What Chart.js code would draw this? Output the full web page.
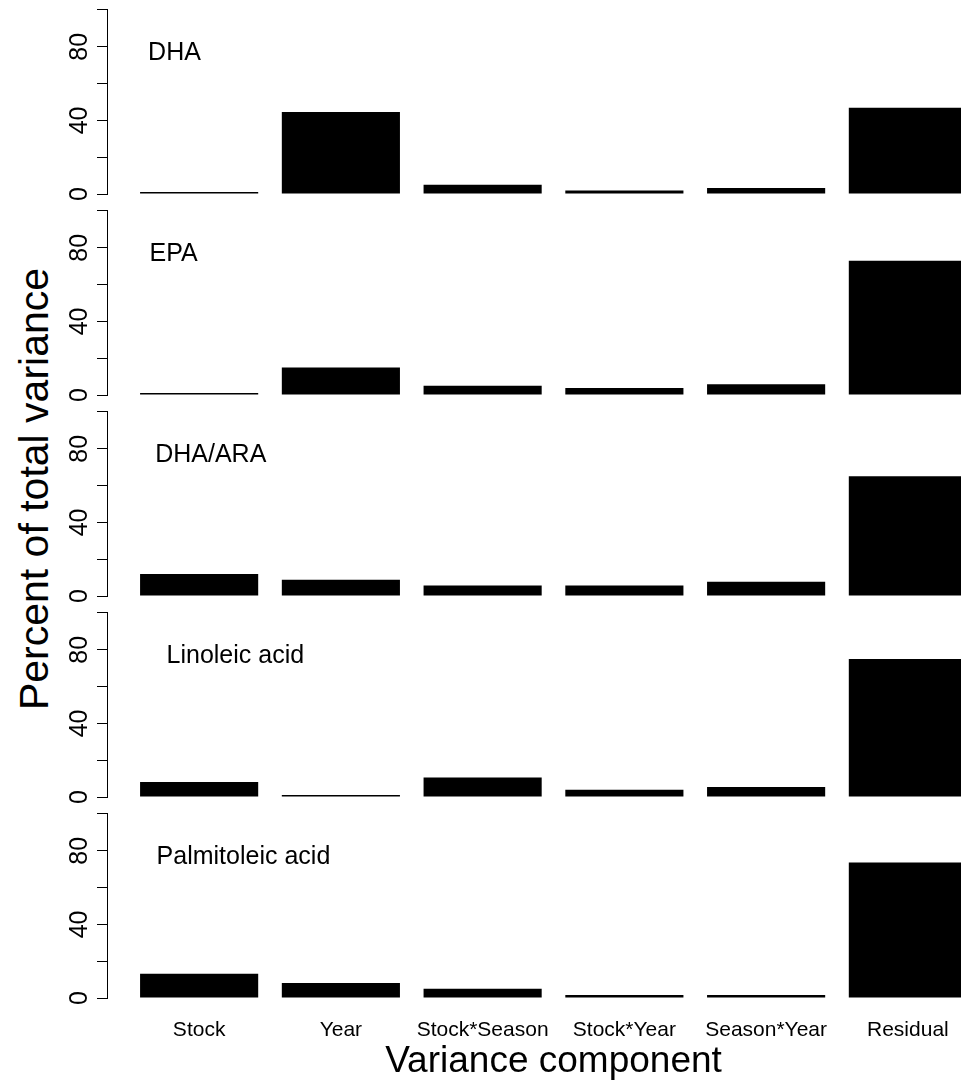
<!DOCTYPE html>
<html>
<head>
<meta charset="utf-8">
<script src="https://cdn.jsdelivr.net/npm/chart.js@4.4.1/dist/chart.umd.min.js"></script>
<style>
html, body { margin: 0; padding: 0; background: #fff; overflow: hidden; }
#figure { position: relative; width: 961px; height: 1087px; overflow: hidden; }
#figure canvas { position: absolute; left: 0; }
#ytitle {
    position: absolute; left: 34px; top: 489px;
    transform: translate(-50%, -50%) rotate(-90deg);
    font: 41px 'Liberation Sans', Arial, sans-serif;
    line-height: 1; white-space: nowrap; color: #000;
}
</style>
</head>
<body>
<div id="figure">
    <div id="ytitle">Percent of total variance</div>
</div>
<script>
const components = ['Stock', 'Year', 'Stock*Season', 'Stock*Year', 'Season*Year', 'Residual']
const dha = [0.4, 44.6, 5.0, 1.9, 3.2, 46.8]
const epa = [0.4, 15.0, 5.0, 3.8, 5.8, 73.0]
const dhaAra = [12.0, 8.8, 5.7, 5.7, 7.8, 65.0]
const linoleic = [8.2, 0.4, 10.6, 4.0, 5.5, 75.0]
const palmitoleic = [13.2, 8.2, 5.0, 1.7, 1.7, 73.6]
const yTicks = [0, 20, 40, 60, 80, 100]
const yTickLabels = [0, 40, 80]

// one small chart per fatty acid, stacked top to bottom
const panels = [
    { name: 'DHA', values: dha, labelX: -0.36 },
    { name: 'EPA', values: epa, labelX: -0.35 },
    { name: 'DHA/ARA', values: dhaAra, labelX: -0.31 },
    { name: 'Linoleic acid', values: linoleic, labelX: -0.23 },
    { name: 'Palmitoleic acid', values: palmitoleic, labelX: -0.30 }
]

const FONT = "'Liberation Sans', Arial, Helvetica, sans-serif"
const PANEL_H = 201
const figure = document.getElementById('figure')

// R style axis: line only from 0 to 100, rotated tick labels, panel name
const panelDecor = {
    id: 'panelDecor',
    afterDraw(chart, args, opts) {
        const ctx = chart.ctx
        const ys = chart.scales.y
        const xs = chart.scales.x
        const ax = Math.round(ys.right - 0.5) + 0.5
        ctx.save()
        ctx.strokeStyle = '#000'
        ctx.lineWidth = 1
        ctx.beginPath()
        ctx.moveTo(ax, Math.round(ys.getPixelForValue(yTicks[0]) - 0.5) + 1)
        ctx.lineTo(ax, Math.round(ys.getPixelForValue(yTicks[yTicks.length - 1]) - 0.5))
        ctx.stroke()

        ctx.fillStyle = '#000'
        ctx.font = '25px ' + FONT
        ctx.textAlign = 'center'
        ctx.textBaseline = 'alphabetic'
        yTickLabels.forEach(v => {
            ctx.save()
            ctx.translate(ys.right - 20, ys.getPixelForValue(v))
            ctx.rotate(-Math.PI / 2)
            ctx.fillText(String(v), 0, 0)
            ctx.restore()
        })

        ctx.textAlign = 'left'
        ctx.fillText(opts.label, xs.getPixelForValue(opts.labelX), ys.getPixelForValue(72.8))
        ctx.restore()
    }
}

panels.forEach((p, i) => {
    const last = i === panels.length - 1
    const canvas = document.createElement('canvas')
    canvas.width = 1000
    canvas.height = last ? 283 : PANEL_H
    canvas.style.top = (i * PANEL_H) + 'px'
    figure.appendChild(canvas)

    new Chart(canvas, {
        type: 'bar',
        data: {
            labels: components.map((c, k) => k),
            datasets: [{
                data: p.values,
                backgroundColor: '#000',
                borderWidth: 0,
                barPercentage: 1 / 1.2,
                categoryPercentage: 1,
                minBarLength: 2
            }]
        },
        options: {
            responsive: false,
            animation: false,
            devicePixelRatio: 1,
            layout: { padding: 0 },
            plugins: {
                legend: { display: false },
                tooltip: { enabled: false },
                panelDecor: { label: p.name, labelX: p.labelX }
            },
            scales: {
                x: {
                    type: 'linear',
                    min: -0.65,
                    max: 5.65,
                    offset: false,
                    display: last,
                    afterBuildTicks: s => { s.ticks = components.map((c, k) => ({ value: k })) },
                    afterFit: s => { s.height = last ? 82 : 0 },
                    grid: { display: false },
                    border: { display: false },
                    ticks: {
                        autoSkip: false,
                        maxRotation: 0,
                        padding: 5,
                        color: '#000',
                        font: { family: FONT, size: 21 },
                        callback: v => components[v]
                    },
                    title: {
                        display: last,
                        text: 'Variance component',
                        color: '#000',
                        font: { family: FONT, size: 37 },
                        padding: { top: 0, bottom: 3 }
                    }
                },
                y: {
                    min: -3.8,
                    max: 105.4,
                    afterBuildTicks: s => { s.ticks = yTicks.map(v => ({ value: v })) },
                    afterFit: s => { s.width = 107 },
                    border: { display: false },
                    grid: { drawOnChartArea: false, drawTicks: true, tickLength: 10, color: '#000', lineWidth: 1 },
                    ticks: { display: false }
                }
            }
        },
        plugins: [panelDecor]
    })
})
</script>
</body>
</html>
